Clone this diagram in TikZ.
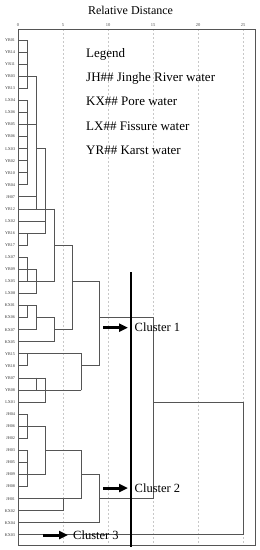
\documentclass[tikz,border=0pt]{standalone}
\usepackage{fontspec}
\setmainfont{Liberation Serif}
\usetikzlibrary{arrows.meta}

\definecolor{linegray}{HTML}{555555}
\definecolor{gridgray}{HTML}{C8C8C8}

\tikzset{
  dendro/.style={draw=linegray, line width=0.9pt, line cap=rect},
  gridline/.style={draw=gridgray, dash pattern=on 2pt off 2pt, line width=0.6pt},
  leaf/.style={anchor=east, inner sep=0pt, text=black!80, font=\fontsize{4.2}{5}\selectfont},
  ticklabel/.style={anchor=base, inner sep=0pt, text=black!70, font=\fontsize{4.5}{5}\selectfont},
  legendtext/.style={anchor=base west, inner sep=0pt, font=\fontsize{13}{15}\selectfont},
  clusterlabel/.style={anchor=west, inner sep=0pt, font=\fontsize{12.5}{15}\selectfont},
  clusterarrow/.style={line width=3pt, -{Triangle[length=9pt,width=8pt]}},
  cutline/.style={line width=2.5pt}
}

\begin{document}
\begin{tikzpicture}[x=1pt,y=-1pt]
    \useasboundingbox (0,0) rectangle (260,550);
    \node[anchor=base, font=\fontsize{12}{14}\selectfont] (title) at (130.5,14) {Relative Distance};
    % grid and axis
    \foreach \t in {5,10,15,20,25}
      \draw[gridline] ({18+9*\t},29) -- ({18+9*\t},545);
    \foreach \t in {0,5,10,15,20,25}
      \node[ticklabel] (tick\t) at ({18+9*\t},26) {\t};
    \draw[linegray, line width=0.9pt] (18,29) rectangle (255.7,545);
    % legend
    \node[legendtext] (legend) at (86,57.5) {Legend};
    \node[legendtext] (jh) at (86,81.7) {JH\#\# Jinghe River water};
    \node[legendtext] (kx) at (86,105.9) {KX\#\# Pore water};
    \node[legendtext] (lx) at (86,130.1) {LX\#\# Fissure water};
    \node[legendtext] (yr) at (86,154.3) {YR\#\# Karst water};
    % dendrogram, x in distance units, y in rows
    \begin{scope}[shift={(18,27.93)}, x=9pt, y=-12.07pt]
      \foreach \name [count=\r] in {YR01,YR14,YR11,YR03,YR13,LX04,LX06,YR05,YR06,LX03,
          YR02,YR10,YR04,JH07,YR12,LX02,YR16,YR17,LX07,YR09,LX05,LX08,KX01,KX06,KX07,
          KX05,YR15,YR18,YR07,YR08,LX01,JH04,JH06,JH02,JH03,JH05,JH09,JH08,JH01,KX02,
          KX04,KX03}
        \node[leaf] (\name) at (-0.3,\r) {\name};
      % horizontal segments: row/from/to
      \foreach \r/\a/\b in {1/0/1, 2/0/1, 3/0/1, 4/0/2, 5/0/1, 6/0/1, 7/0/1, 8/0/2, 9/0/1,
          10/0/1, 10/2/3, 11/0/1, 12/0/1, 13/0/1, 14/0/2, 15/0/4, 16/0/3, 17/0/3, 18/0/1,
          18/4/6, 19/0/1, 20/0/2, 21/0/4, 21/6/9, 22/0/2, 23/0/2, 24/0/1, 24/2/4, 24/9/15,
          25/0/2, 25/4/6, 26/0/4, 27/0/7, 28/0/1, 28/7/9, 29/0/3, 30/0/7, 31/0/3, 31/15/25,
          32/0/1, 33/0/3, 34/0/1, 35/0/1, 35/3/7, 36/0/1, 37/0/3, 37/7/9, 38/0/1, 39/0/7,
          39/9/15, 40/0/5, 41/0/9, 42/0/25}
        \draw[dendro] (\a,\r) -- (\b,\r);
      % vertical segments: distance/from/to
      \foreach \d/\a/\b in {1/1/5, 1/6/13, 1/17/18, 1/19/21, 1/23/24, 1/27/28, 1/32/34,
          1/35/38, 2/4/15, 2/20/22, 2/23/25, 2/29/30, 3/10/17, 3/29/31, 3/33/37, 4/15/21,
          4/24/26, 5/39/40, 6/18/25, 7/27/30, 7/35/39, 9/21/28, 9/37/41, 15/24/39, 25/31/42}
        \draw[dendro] (\d,\a) -- (\d,\b);
    \end{scope}
    % cut line
    \draw[cutline] (131,272) -- (131,547);
    % clusters
    \node[clusterlabel] (cluster1) at (134.5,327.7) {Cluster 1};
    \node[clusterlabel] (cluster2) at (134.5,488) {Cluster 2};
    \node[clusterlabel] (cluster3) at (73,535) {Cluster 3};
    \coordinate (tail1) at (103,327.7);
    \coordinate (tail2) at (103,488);
    \coordinate (tail3) at (43,535);
    \draw[clusterarrow] (tail1) -- ([xshift=-6.5pt]cluster1.west);
    \draw[clusterarrow] (tail2) -- ([xshift=-6.5pt]cluster2.west);
    \draw[clusterarrow] (tail3) -- ([xshift=-5pt]cluster3.west);
  \end{tikzpicture}
\end{document}
